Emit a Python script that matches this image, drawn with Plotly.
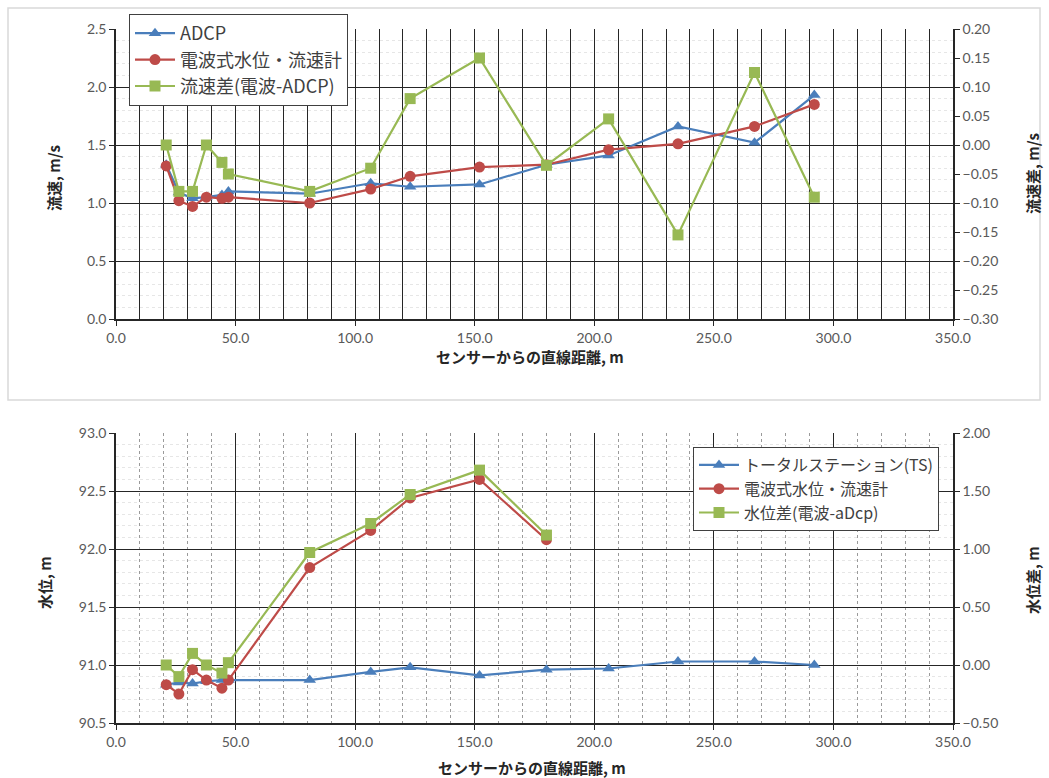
import plotly.graph_objects as go

# ---- data ----
distance = [21, 26.3, 32, 37.8, 44.3, 47, 81, 106.5, 123, 152, 180, 206, 235, 267, 292]

adcp_speed = [1.33, 1.09, 1.04, 1.05, 1.07, 1.10, 1.08, 1.17, 1.14, 1.16, 1.33, 1.41, 1.66, 1.52, 1.93]
radio_speed = [1.32, 1.02, 0.97, 1.05, 1.04, 1.05, 1.00, 1.12, 1.23, 1.31, 1.33, 1.46, 1.51, 1.66, 1.85]
speed_diff = [0.00, -0.08, -0.08, 0.00, -0.03, -0.05, -0.08, -0.04, 0.08, 0.15, -0.035, 0.045, -0.155, 0.125, -0.09]

ts_level = [90.83, 90.85, 90.84, 90.86, 90.87, 90.87, 90.87, 90.94, 90.98, 90.91, 90.96, 90.97, 91.03, 91.03, 91.00]
radio_level = [90.83, 90.75, 90.96, 90.87, 90.80, 90.87, 91.84, 92.16, 92.44, 92.60, 92.08, None, None, None, None]
level_diff = [0.00, -0.10, 0.10, 0.00, -0.07, 0.02, 0.97, 1.22, 1.47, 1.68, 1.12, None, None, None, None]

names_top = ["ADCP", "電波式水位・流速計", "流速差(電波-ADCP)"]
names_bottom = ["トータルステーション(TS)", "電波式水位・流速計", "水位差(電波-aDcp)"]
x_title = "センサーからの直線距離, m"

BLUE = "#4A7EBB"
RED = "#BE4B48"
GREEN = "#98B954"

W, H = 1049, 778
L, R, T, B = 116, 953, 29, 723
def px(x):
    return (x - L) / (R - L)
def py(y):
    return (B - y) / (B - T)

fig = go.Figure()

def add(x, y, name, color, symbol, xa, ya, legend):
    fig.add_trace(go.Scatter(
        x=x, y=y, name=name, mode="lines+markers",
        line=dict(color=color, width=2.2),
        marker=dict(symbol=symbol, size=11, color=color),
        xaxis=xa, yaxis=ya, legend=legend, connectgaps=False))

add(distance, adcp_speed, names_top[0], BLUE, "triangle-up", "x", "y", "legend")
add(distance, radio_speed, names_top[1], RED, "circle", "x", "y", "legend")
add(distance, speed_diff, names_top[2], GREEN, "square", "x", "y2", "legend")

add(distance, ts_level, names_bottom[0], BLUE, "triangle-up", "x2", "y3", "legend2")
add(distance, radio_level, names_bottom[1], RED, "circle", "x2", "y3", "legend2")
add(distance, level_diff, names_bottom[2], GREEN, "square", "x2", "y4", "legend2")

TICKFONT = dict(family="Lato, Open Sans, sans-serif", size=14, color="#595959")
DARK = "#262626"
xdom = [0, 1]
top_dom = [py(319), py(29)]
bot_dom = [py(723), py(433)]

def xaxis(anchor, minor_color, minor_dash):
    return dict(domain=xdom, anchor=anchor, range=[0, 350], dtick=50, tick0=0,
                tickformat=".1f", tickfont=TICKFONT, ticks="outside", ticklen=5,
                tickcolor=DARK, showline=True, linecolor=DARK, linewidth=1.5,
                showgrid=True, gridcolor=DARK, gridwidth=1.3, zeroline=False,
                automargin=False,
                minor=dict(dtick=10, showgrid=True, gridcolor=minor_color,
                           griddash=minor_dash, gridwidth=1.3, ticks=""))

def yleft(anchor, dom, rng, fmt):
    return dict(domain=dom, anchor=anchor, range=rng, dtick=0.5, tickformat=fmt,
                tickfont=TICKFONT, ticks="outside", ticklen=5, tickcolor=DARK,
                showline=True, linecolor=DARK, linewidth=1.5, showgrid=True,
                gridcolor=DARK, gridwidth=1.3, zeroline=False, automargin=False,
                minor=dict(dtick=0.1, showgrid=True, gridcolor="#e6e6e6",
                           griddash="dot", gridwidth=1, ticks=""))

def yright(anchor, over, rng, dtick):
    return dict(overlaying=over, anchor=anchor, side="right", range=rng, dtick=dtick,
                tickformat=".2f", tickfont=TICKFONT, ticks="outside", ticklen=5,
                tickcolor=DARK, showline=True, linecolor=DARK, linewidth=1.5,
                showgrid=False, zeroline=False, automargin=False)

TITLEFONT = dict(family="Noto Sans CJK JP", size=15, color="#262626", weight="bold")

annotations = [
    dict(text="流速, m/s", x=px(53), y=py(178), textangle=-90),
    dict(text="流速差, m/s", x=px(1032), y=py(174), textangle=-90),
    dict(text=x_title, x=px(530), y=py(356)),
    dict(text="水位, m", x=px(44), y=py(583), textangle=-90),
    dict(text="水位差, m", x=px(1032), y=py(580), textangle=-90),
    dict(text=x_title, x=px(532), y=py(767)),
]
for a in annotations:
    a.update(xref="paper", yref="paper", showarrow=False, font=TITLEFONT,
             xanchor="center", yanchor="middle")

fig.update_layout(
    width=W, height=H, margin=dict(l=L, r=W - R, t=T, b=H - B, autoexpand=False),
    paper_bgcolor="white", plot_bgcolor="white",
    xaxis=xaxis("y", DARK, "solid"),
    yaxis=yleft("x", top_dom, [0, 2.5], ".1f"),
    yaxis2=yright("x", "y", [-0.3, 0.2], 0.05),
    xaxis2=xaxis("y3", "#9a9a9a", "dot"),
    yaxis3=yleft("x2", bot_dom, [90.5, 93.0], ".1f"),
    yaxis4=yright("x2", "y3", [-0.5, 2.0], 0.5),
    legend=dict(x=px(129), y=py(14), xanchor="left", yanchor="top",
                bgcolor="white", bordercolor="#404040", borderwidth=1,
                font=dict(family="Noto Sans CJK JP", size=18, color="#404040"),
                itemwidth=40),
    legend2=dict(x=px(693), y=py(447), xanchor="left", yanchor="top",
                 bgcolor="white", bordercolor="#404040", borderwidth=1,
                 font=dict(family="Noto Sans CJK JP", size=16, color="#404040"),
                 itemwidth=40),
    annotations=annotations,
    shapes=[dict(type="rect", xref="paper", yref="paper",
                 x0=px(8), x1=px(1040), y0=py(400), y1=py(8),
                 line=dict(color="#d9d9d9", width=1.5), layer="below")],
)

fig.write_html("out.html", config={"displayModeBar": False},
               post_script="document.body.style.margin='0';document.body.style.overflow='hidden';")
